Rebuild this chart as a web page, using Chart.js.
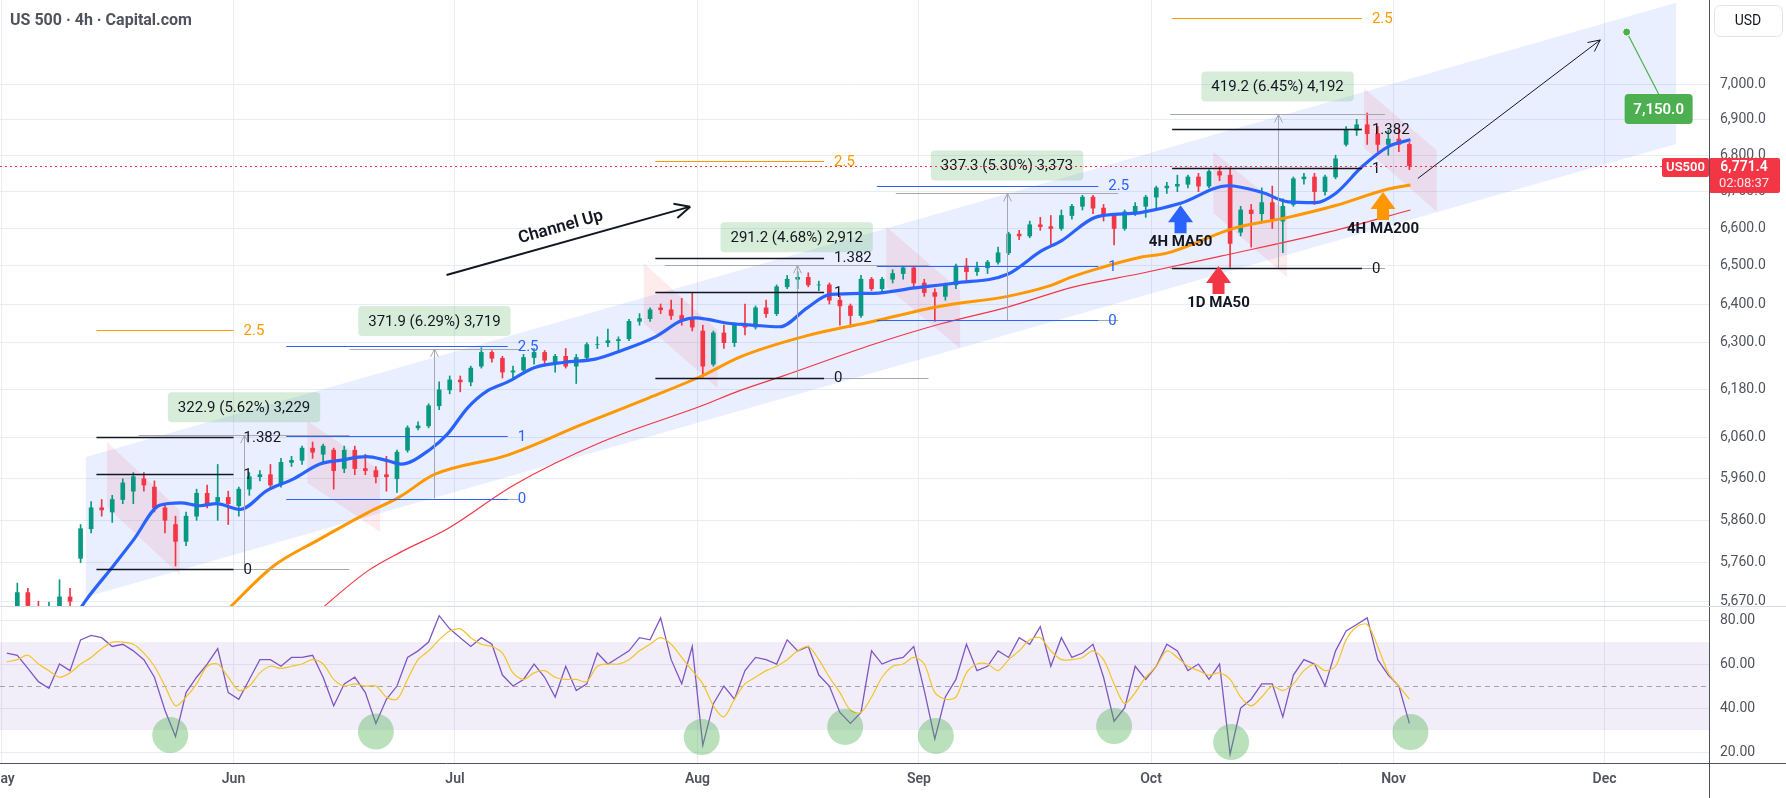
<!DOCTYPE html>
<html>
<head>
<meta charset="utf-8">
<title>US 500 4h</title>
<script src="https://cdn.jsdelivr.net/npm/chart.js@4.4.1/dist/chart.umd.min.js"></script>
<style>
  html, body { margin: 0; padding: 0; background: #ffffff; }
  #wrap { position: relative; width: 1786px; height: 798px; overflow: hidden; background: #ffffff; }
  #price { position: absolute; left: 0; top: 0; width: 1786px; height: 606px; }
  #rsi { position: absolute; left: 0; top: 606px; width: 1786px; height: 192px; }
</style>
</head>
<body>
<div id="wrap">
  <canvas id="price" width="1786" height="606"></canvas>
  <canvas id="rsi" width="1786" height="192"></canvas>
</div>
<script>
/* global Chart */
// x unit = trading day, 0 = 1 May (weekends skipped)
var monthDays = [0, 22, 43, 66, 87, 109, 132, 152];
var monthLabels = ['May', 'Jun', 'Jul', 'Aug', 'Sep', 'Oct', 'Nov', 'Dec'];
var priceTicks = [7000, 6900, 6800, 6700, 6600, 6500, 6400, 6300, 6180, 6060, 5960, 5860, 5760, 5670];
var rsiTicks = [80, 60, 40, 20];

// daily candles
var candleOpen = [
  5610, 5645, 5690, 5655, 5620, 5645, 5680, 5770, 5840, 5890,
  5880, 5910, 5930, 5960, 5940, 5890, 5850, 5810, 5870, 5925,
  5905, 5915, 5895, 5935, 5965, 5970, 5950, 6000, 6005, 6035,
  6020, 6030, 5985, 6030, 5985, 5980, 5970, 5960, 6030, 6085,
  6090, 6140, 6180, 6205, 6200, 6240, 6275, 6260, 6225, 6230,
  6262, 6275, 6250, 6265, 6240, 6262, 6295, 6300, 6305, 6310,
  6355, 6362, 6390, 6385, 6370, 6365, 6330, 6245, 6325, 6300,
  6345, 6340, 6390, 6375, 6445, 6465, 6470, 6450, 6450, 6410,
  6395, 6370, 6465, 6440, 6465, 6480, 6495, 6455, 6430, 6420,
  6450, 6500, 6485, 6495, 6510, 6535, 6585, 6580, 6610, 6605,
  6600, 6635, 6660, 6685, 6655, 6635, 6600, 6645, 6660, 6685,
  6710, 6715, 6720, 6740, 6715, 6755, 6745, 6590, 6650, 6640,
  6670, 6620, 6665, 6735, 6740, 6700, 6740, 6830, 6870, 6885,
  6860, 6830, 6845, 6830
];
var candleHigh = [
  5655, 5712, 5700, 5670, 5668, 5720, 5700, 5850, 5905, 5910,
  5920, 5960, 5975, 5975, 5955, 5900, 5870, 5880, 5935, 5945,
  5995, 5930, 5940, 5975, 5980, 5995, 6010, 6015, 6040, 6050,
  6045, 6035, 6040, 6040, 6020, 5990, 6015, 6030, 6090, 6100,
  6145, 6200, 6215, 6215, 6240, 6287, 6280, 6265, 6240, 6270,
  6285, 6280, 6270, 6285, 6270, 6300, 6315, 6335, 6315, 6360,
  6375, 6390, 6400, 6410, 6415, 6428, 6345, 6330, 6345, 6350,
  6400, 6395, 6410, 6450, 6475, 6485, 6482, 6460, 6455, 6420,
  6400, 6475, 6470, 6470, 6490, 6500, 6500, 6465, 6440, 6455,
  6505, 6520, 6510, 6515, 6550, 6590, 6595, 6620, 6630, 6635,
  6650, 6665, 6690, 6690, 6665, 6640, 6650, 6670, 6690, 6715,
  6725, 6745, 6745, 6750, 6760, 6768, 6765, 6660, 6665, 6710,
  6715, 6680, 6740, 6750, 6750, 6745, 6800, 6880, 6900, 6918,
  6880, 6870, 6875, 6835
];
var candleLow = [
  5580, 5640, 5640, 5600, 5600, 5640, 5655, 5760, 5830, 5870,
  5855, 5900, 5900, 5930, 5880, 5830, 5752, 5800, 5860, 5890,
  5860, 5850, 5870, 5920, 5955, 5935, 5940, 5990, 5995, 6010,
  6000, 5935, 5975, 5970, 5970, 5950, 5930, 5927, 6025, 6080,
  6085, 6130, 6170, 6175, 6190, 6235, 6250, 6210, 6210, 6220,
  6245, 6240, 6225, 6235, 6196, 6255, 6285, 6290, 6280, 6305,
  6345, 6355, 6375, 6360, 6345, 6330, 6212, 6240, 6285, 6290,
  6320, 6335, 6365, 6370, 6440, 6440, 6445, 6435, 6400, 6345,
  6340, 6365, 6435, 6430, 6455, 6465, 6440, 6420, 6355, 6410,
  6440, 6460, 6475, 6480, 6505, 6530, 6570, 6575, 6595, 6555,
  6595, 6625, 6650, 6640, 6620, 6556, 6595, 6635, 6630, 6650,
  6695, 6700, 6710, 6700, 6710, 6730, 6496, 6580, 6550, 6620,
  6600, 6535, 6660, 6720, 6665, 6690, 6735, 6825, 6855, 6830,
  6810, 6800, 6810, 6760
];
var candleClose = [
  5640, 5690, 5660, 5615, 5640, 5680, 5670, 5840, 5890, 5885,
  5910, 5950, 5965, 5945, 5890, 5860, 5810, 5870, 5925, 5900,
  5915, 5900, 5935, 5965, 5970, 5945, 6000, 6005, 6035, 6025,
  6040, 5980, 6030, 5985, 5980, 5965, 5965, 6025, 6085, 6090,
  6140, 6180, 6205, 6200, 6235, 6275, 6260, 6225, 6228, 6262,
  6275, 6255, 6265, 6240, 6262, 6295, 6295, 6305, 6308, 6355,
  6362, 6385, 6385, 6370, 6360, 6340, 6240, 6325, 6300, 6345,
  6340, 6390, 6375, 6445, 6465, 6470, 6450, 6450, 6410, 6395,
  6370, 6465, 6440, 6465, 6480, 6495, 6455, 6430, 6420, 6450,
  6500, 6485, 6495, 6510, 6535, 6585, 6580, 6610, 6605, 6600,
  6635, 6660, 6685, 6655, 6635, 6600, 6645, 6660, 6685, 6710,
  6715, 6720, 6740, 6715, 6755, 6745, 6560, 6650, 6640, 6670,
  6625, 6660, 6735, 6740, 6700, 6740, 6790, 6870, 6885, 6860,
  6830, 6845, 6830, 6771.4
];

var ma50Days = [7, 8, 10.6, 12.5, 15, 17, 18.8, 20.4, 22.6, 25.2, 27.7, 30.2, 32.1, 34.6, 36.5, 37.9, 40.7, 42.3, 44.2, 46.1, 48, 50.5, 53.4, 56.3, 58.8, 62, 64.5, 65.8, 67, 68.9, 70.8, 73.8, 76.4, 78.6, 82.7, 86.6, 90.4, 95.4, 98.6, 100.5, 103.7, 106.7, 108, 111.8, 116.3, 119.5, 122, 124.6, 126.5, 129, 131.5, 133.6];
var ma50Values = [5635, 5672, 5752, 5813, 5896, 5902, 5895, 5900, 5886, 5932, 5960, 5996, 6005, 6014, 6005, 5996, 6033, 6070, 6135, 6178, 6200, 6236, 6250, 6258, 6280, 6315, 6357, 6364, 6360, 6350, 6346, 6341, 6390, 6425, 6428, 6442, 6455, 6478, 6540, 6567, 6630, 6640, 6643, 6668, 6716, 6698, 6672, 6670, 6695, 6768, 6824, 6843];
var ma200Days = [21, 25.8, 30, 34.7, 37.8, 41, 48, 55, 61.4, 66.4, 70, 76.4, 82.7, 89, 95.4, 99.2, 101.7, 104.2, 108, 110.5, 116.9, 122, 126.5, 131.5, 133.6];
var ma200Values = [5640, 5752, 5813, 5878, 5917, 5970, 6018, 6093, 6160, 6215, 6263, 6318, 6355, 6394, 6420, 6446, 6473, 6495, 6523, 6534, 6601, 6630, 6662, 6707, 6718];
var dma50Days = [29, 34.7, 37.8, 42.3, 48.6, 56.9, 66.4, 70, 74, 82.7, 89, 95.4, 101.7, 108, 115.6, 126.5, 133.6];
var dma50Values = [5625, 5740, 5784, 5840, 5945, 6050, 6140, 6178, 6214, 6296, 6348, 6392, 6445, 6480, 6526, 6595, 6650];

var rsiValues = [
  65, 64, 58, 52, 49, 60, 57, 71, 73, 72,
  68, 69, 66, 62, 54, 39, 27, 47, 54, 60,
  67, 47, 44, 53, 62, 62, 59, 63, 63, 64,
  54, 41, 51, 54, 47, 33, 44, 50, 63, 66,
  70, 82, 76, 72, 68, 72, 69, 55, 50, 53,
  60, 54, 45, 59, 48, 51, 65, 60, 63, 66,
  72, 71, 81, 62, 51, 68, 23, 42, 50, 44,
  57, 63, 62, 60, 71, 66, 68, 55, 50, 38,
  33, 38, 66, 60, 62, 63, 68, 48, 26, 45,
  53, 69, 57, 59, 66, 63, 72, 69, 77, 59,
  72, 63, 65, 69, 54, 34, 40, 59, 53, 59,
  69, 66, 57, 60, 53, 60, 19, 40, 44, 51,
  51, 36, 55, 62, 60, 50, 66, 75, 78, 81,
  62, 55, 50, 33
];
var rsiMaValues = [
  61, 62, 64, 60, 57, 54, 56, 60, 63, 67,
  70, 70, 69, 65, 59, 50, 41, 45, 51, 59,
  60, 54, 48, 50, 56, 59, 58, 59, 60, 62,
  60, 53, 50, 51, 50, 50, 45, 44, 53, 62,
  66, 71, 75, 76, 72, 69, 68, 65, 56, 53,
  56, 57, 54, 53, 53, 52, 59, 60, 60, 62,
  66, 69, 72, 69, 63, 57, 51, 41, 36, 44,
  51, 54, 57, 59, 62, 66, 68, 62, 54, 47,
  39, 38, 45, 54, 59, 60, 63, 60, 47, 44,
  45, 56, 60, 60, 57, 62, 66, 71, 72, 66,
  62, 62, 63, 66, 62, 51, 42, 47, 54, 59,
  66, 63, 59, 57, 55, 56, 53, 45, 41, 45,
  50, 48, 51, 57, 60, 57, 59, 71, 77, 78,
  68, 56, 50, 44
];
var rsiBand = [30, 70];
var rsiMid = 50;
var dipDays = [16.0, 35.5, 66.4, 80.0, 88.6, 105.5, 116.6, 133.6];
var dipValues = [27.7, 29.3, 26.8, 31.4, 27.3, 31.8, 24.5, 29.1];

// drawings
var channelDays = [8.0, 158.8];
var channelTop = [6013, 7236];
var channelBottom = [5680, 6831];

var pinkStartDay = [10.0, 29.0, 60.9, 83.9, 114.9, 129.2];
var pinkEndDay = [16.9, 35.9, 67.9, 90.9, 121.9, 136.1];
var pinkTopStart = [6050, 6102, 6507, 6605, 6810, 6988];
var pinkBottomStart = [5892, 5950, 6350, 6445, 6642, 6820];
var pinkTopEnd = [5885, 5981, 6332, 6436, 6644, 6814];
var pinkBottomEnd = [5731, 5832, 6184, 6285, 6471, 6645];

var fibStartDay = [9, 27, 62, 83, 111];
var fibEndDay = [22, 48, 78, 104, 129];
var fibZero = [5744, 5912, 6211, 6358, 6495];
var fibOne = [5971, 6064, 6432, 6500, 6764];
var fibMid = [6063, null, 6522, null, 6873];
var fibTop = [6332, 6292, 6784, 6716, 7190];
var fibKind = ['black', 'blue', 'black', 'blue', 'black'];

var measureStartDay = [13, 33, 62.9, 84.8, 110.8];
var measureEndDay = [33, 49.1, 87.9, 105.9, 131.2];
var measureLow = [5744, 5912, 6211, 6358, 6495];
var measureHigh = [6067, 6284, 6502, 6695, 6914];
var measureText = ['322.9 (5.62%) 3,229', '371.9 (6.29%) 3,719', '291.2 (4.68%) 2,912', '337.3 (5.30%) 3,373', '419.2 (6.45%) 4,192'];

var markText = ['4H MA50', '1D MA50', '4H MA200'];
var markDay = [111.8, 115.4, 131.0];
var markPrice = [6663, 6500, 6699];

var trendDays = [42.2, 65.3];
var trendPrices = [6476, 6659];
var projDays = [134.3, 151.6];
var projPrices = [6736, 7127];
var targetDay = 154.1;
var targetPrice = 7150;
var lastPrice = 6771.4;
var countdown = '02:08:37';

// ---- styles ----
var UP = '#089981', DOWN = '#f23645';
var BLUE = '#2962ff', ORANGE = '#ff9800', RED = '#f23645', INK = '#131722';
var MARK_COLORS = [BLUE, RED, ORANGE];
var FONT = 'Roboto, "Liberation Sans", Arial, sans-serif';
var GRID = '#e8edf4';
var AXIS_LINE = '#50535e';
var AXIS_TEXT = '#50535e';
var X_MIN = -0.142, X_MAX = 161.91;

function pts(days, values) { return days.map(function (d, i) { return { x: d, y: values[i] }; }); }
function dayPts(values) { return values.map(function (v, i) { return { x: i + 0.5, y: v }; }); }
function fmtPrice(v) { return Number(v).toLocaleString('en-US', { minimumFractionDigits: 1, maximumFractionDigits: 1 }); }

function seg(ctx, x0, y0, x1, y1, color, width, dash) {
    ctx.save();
    ctx.strokeStyle = color; ctx.lineWidth = width; ctx.setLineDash(dash || []);
    ctx.beginPath(); ctx.moveTo(x0, y0); ctx.lineTo(x1, y1); ctx.stroke();
    ctx.restore();
}
function hline(ctx, x0, x1, y, color, width, dash) { var yy = Math.round(y) + 0.5; seg(ctx, x0, yy, x1, yy, color, width, dash); }
function rrect(ctx, x, y, w, h, r) {
    ctx.beginPath();
    ctx.moveTo(x + r, y);
    ctx.arcTo(x + w, y, x + w, y + h, r); ctx.arcTo(x + w, y + h, x, y + h, r);
    ctx.arcTo(x, y + h, x, y, r); ctx.arcTo(x, y, x + w, y, r);
    ctx.closePath();
}
function head(ctx, x0, y0, x1, y1, len, color, width) {
    var a = Math.atan2(y1 - y0, x1 - x0);
    seg(ctx, x1, y1, x1 - len * Math.cos(a - 0.45), y1 - len * Math.sin(a - 0.45), color, width);
    seg(ctx, x1, y1, x1 - len * Math.cos(a + 0.45), y1 - len * Math.sin(a + 0.45), color, width);
}
function monthTicks(scale) { scale.ticks = monthDays.map(function (d) { return { value: d }; }); }
function monthLabel(v) { var k = monthDays.indexOf(v); return k < 0 ? '' : monthLabels[k]; }

var candleColors = candleOpen.map(function (o, i) { return candleClose[i] >= o ? UP : DOWN; });
var wickData = candleOpen.map(function (o, i) { return { x: i + 0.5, y: [candleLow[i], candleHigh[i]] }; });
var bodyData = candleOpen.map(function (o, i) { return { x: i + 0.5, y: [o, candleClose[i]] }; });

var shapeSets = [{
    type: 'line', order: 20, fill: 'shape', backgroundColor: 'rgba(41,98,255,0.1)', borderWidth: 0, pointRadius: 0, tension: 0,
    data: [{ x: channelDays[0], y: channelTop[0] }, { x: channelDays[1], y: channelTop[1] }, { x: channelDays[1], y: channelBottom[1] }, { x: channelDays[0], y: channelBottom[0] }]
}].concat(pinkStartDay.map(function (d, i) {
    return {
        type: 'line', order: 19, fill: 'shape', backgroundColor: 'rgba(242,54,69,0.1)', borderWidth: 0, pointRadius: 0, tension: 0,
        data: [{ x: d, y: pinkTopStart[i] }, { x: pinkEndDay[i], y: pinkTopEnd[i] }, { x: pinkEndDay[i], y: pinkBottomEnd[i] }, { x: d, y: pinkBottomStart[i] }]
    };
}));

var priceOverlay = {
    id: 'priceOverlay',
    afterDraw: function (chart) {
        var ctx = chart.ctx, xs = chart.scales.x, ys = chart.scales.y, area = chart.chartArea;
        var X = function (d) { return xs.getPixelForValue(d); };
        var Y = function (p) { return ys.getPixelForValue(p); };
        var GRAY = '#a5a8b0';
        ctx.save();

        // price range measures
        measureStartDay.forEach(function (d, i) {
            var x0 = X(d), x1 = X(measureEndDay[i]), xm = Math.round((x0 + x1) / 2) + 0.5;
            var yLo = Y(measureLow[i]), yHi = Y(measureHigh[i]);
            hline(ctx, x0, x1, yLo, GRAY, 1);
            hline(ctx, x0, x1, yHi, GRAY, 1);
            seg(ctx, xm, yLo, xm, yHi, GRAY, 1);
            head(ctx, xm, yLo, xm, yHi, 9, GRAY, 1);
        });

        // fib levels
        ctx.font = '15px ' + FONT; ctx.textAlign = 'left'; ctx.textBaseline = 'middle';
        fibStartDay.forEach(function (d, i) {
            var x0 = X(d), x1 = X(fibEndDay[i]);
            var blue = fibKind[i] === 'blue';
            var levels = [[fibZero[i], '0'], [fibOne[i], '1'], [fibMid[i], '1.382'], [fibTop[i], '2.5']];
            levels.forEach(function (l, k) {
                if (l[0] === null) { return; }
                var col = blue ? BLUE : (k === 3 ? ORANGE : INK);
                var y = Y(l[0]);
                hline(ctx, x0, x1, y, col, blue || k === 3 ? 1.2 : 1.5);
                ctx.fillStyle = col;
                ctx.fillText(l[1], x1 + 10, y + 1);
            });
        });

        // measure labels
        ctx.font = '15px ' + FONT; ctx.textAlign = 'center'; ctx.textBaseline = 'middle';
        measureStartDay.forEach(function (d, i) {
            var xm = (X(d) + X(measureEndDay[i])) / 2, yHi = Y(measureHigh[i]);
            var w = ctx.measureText(measureText[i]).width + 20, h = 30;
            rrect(ctx, xm - w / 2, yHi - 13 - h, w, h, 4);
            ctx.fillStyle = 'rgba(76,175,80,0.22)'; ctx.fill();
            ctx.fillStyle = INK; ctx.fillText(measureText[i], xm, yHi - 13 - h / 2 + 1);
        });

        // channel up arrow
        var tx0 = X(trendDays[0]), ty0 = Y(trendPrices[0]), tx1 = X(trendDays[1]), ty1 = Y(trendPrices[1]);
        seg(ctx, tx0, ty0, tx1, ty1, INK, 2);
        head(ctx, tx0, ty0, tx1, ty1, 17, INK, 2);
        ctx.save();
        ctx.translate(tx0 + (tx1 - tx0) * 0.486, ty0 + (ty1 - ty0) * 0.486);
        ctx.rotate(Math.atan2(ty1 - ty0, tx1 - tx0));
        ctx.font = '600 17px ' + FONT; ctx.fillStyle = INK; ctx.textAlign = 'center'; ctx.textBaseline = 'middle';
        ctx.fillText('Channel Up', 0, -15);
        ctx.restore();

        // projection arrow
        var px0 = X(projDays[0]), py0 = Y(projPrices[0]), px1 = X(projDays[1]), py1 = Y(projPrices[1]);
        seg(ctx, px0, py0, px1, py1, INK, 1);
        head(ctx, px0, py0, px1, py1, 13, INK, 1);

        // MA arrow marks
        markDay.forEach(function (d, i) {
            var x = X(d), y = Y(markPrice[i]);
            ctx.fillStyle = MARK_COLORS[i];
            ctx.beginPath();
            ctx.moveTo(x, y); ctx.lineTo(x + 12.5, y + 17); ctx.lineTo(x + 6, y + 17); ctx.lineTo(x + 6, y + 28);
            ctx.lineTo(x - 6, y + 28); ctx.lineTo(x - 6, y + 17); ctx.lineTo(x - 12.5, y + 17);
            ctx.closePath(); ctx.fill();
            ctx.font = 'bold 15px ' + FONT; ctx.fillStyle = INK; ctx.textAlign = 'center'; ctx.textBaseline = 'middle';
            ctx.fillText(markText[i], x, y + 37);
        });

        // target label
        var gx = X(targetDay), gy = Y(targetPrice);
        seg(ctx, gx, gy, gx + 32, gy + 62, '#4caf50', 1.2);
        rrect(ctx, gx - 2, gy + 62, 68, 30, 4);
        ctx.fillStyle = '#4caf50'; ctx.fill();
        ctx.font = '600 15px ' + FONT; ctx.fillStyle = '#ffffff'; ctx.textAlign = 'center'; ctx.textBaseline = 'middle';
        ctx.fillText(fmtPrice(targetPrice), gx + 32, gy + 78);
        ctx.beginPath(); ctx.arc(gx, gy, 4, 0, Math.PI * 2);
        ctx.fillStyle = '#4caf50'; ctx.fill(); ctx.strokeStyle = '#ffffff'; ctx.lineWidth = 1; ctx.stroke();

        // last price line and labels
        var ly = Y(lastPrice);
        hline(ctx, area.left, area.right, ly, RED, 1, [2, 3]);
        ctx.fillStyle = RED;
        rrect(ctx, area.right - 47, Math.round(ly) - 8, 47, 19, 2); ctx.fill();
        rrect(ctx, area.right, Math.round(ly) - 8, 71, 35, 2); ctx.fill();
        ctx.fillStyle = '#ffffff'; ctx.textAlign = 'center'; ctx.textBaseline = 'middle';
        ctx.font = '600 13px ' + FONT;
        ctx.fillText('US500', area.right - 23.5, Math.round(ly) + 1.5);
        ctx.font = '600 14px ' + FONT;
        ctx.fillText(fmtPrice(lastPrice), area.right + 35, Math.round(ly) + 1.5);
        ctx.font = '13px ' + FONT; ctx.fillStyle = 'rgba(255,255,255,0.88)';
        ctx.fillText(countdown, area.right + 35, Math.round(ly) + 18);

        // title, currency box, right border
        ctx.font = 'bold 16px ' + FONT; ctx.fillStyle = '#50535e'; ctx.textAlign = 'left'; ctx.textBaseline = 'middle';
        ctx.fillText('US 500 \u00b7 4h \u00b7 Capital.com', 10, 21);
        rrect(ctx, 1714.5, 5.5, 68, 31, 6);
        ctx.fillStyle = '#ffffff'; ctx.fill(); ctx.strokeStyle = '#e0e3eb'; ctx.lineWidth = 1; ctx.stroke();
        ctx.font = '14px ' + FONT; ctx.fillStyle = INK; ctx.textAlign = 'center';
        ctx.fillText('USD', 1748, 21.5);
        var rx = Math.round(area.right) + 0.5;
        seg(ctx, rx, 0, rx, chart.height, AXIS_LINE, 1);
        ctx.restore();
    }
};

var rsiOverlay = {
    id: 'rsiOverlay',
    beforeDatasetsDraw: function (chart) {
        var ctx = chart.ctx, a = chart.chartArea, ys = chart.scales.y;
        var yHi = ys.getPixelForValue(rsiBand[1]), yLo = ys.getPixelForValue(rsiBand[0]);
        ctx.save();
        ctx.fillStyle = 'rgba(126,87,194,0.1)';
        ctx.fillRect(a.left, yHi, a.right - a.left, yLo - yHi);
        hline(ctx, a.left, a.right, ys.getPixelForValue(rsiMid), '#a3a6ae', 1, [5, 4]);
        ctx.restore();
    },
    afterDraw: function (chart) {
        var ctx = chart.ctx, a = chart.chartArea;
        var rx = Math.round(a.right) + 0.5;
        seg(ctx, rx, 0, rx, chart.height, AXIS_LINE, 1);
        hline(ctx, 0, chart.width, a.bottom, AXIS_LINE, 1);
        hline(ctx, 0, chart.width, 0, '#d6d9e0', 1);
    }
};

new Chart(document.getElementById('price'), {
    type: 'bar',
    data: {
        datasets: shapeSets.concat([
            { type: 'bar', order: 6, data: wickData, backgroundColor: candleColors, barThickness: 1, grouped: false },
            { type: 'bar', order: 5, data: bodyData, backgroundColor: candleColors, barThickness: 4, grouped: false },
            { type: 'line', order: 3, data: pts(dma50Days, dma50Values), borderColor: RED, borderWidth: 1.2, pointRadius: 0, tension: 0.4, cubicInterpolationMode: 'monotone' },
            { type: 'line', order: 2, data: pts(ma200Days, ma200Values), borderColor: ORANGE, borderWidth: 3, pointRadius: 0, tension: 0.4, cubicInterpolationMode: 'monotone' },
            { type: 'line', order: 1, data: pts(ma50Days, ma50Values), borderColor: BLUE, borderWidth: 3.2, pointRadius: 0, tension: 0.4, cubicInterpolationMode: 'monotone' }
        ])
    },
    options: {
        responsive: false, animation: false, events: [], devicePixelRatio: 1,
        layout: { padding: 0, autoPadding: false },
        plugins: { legend: { display: false }, tooltip: { enabled: false } },
        scales: {
            x: {
                type: 'linear', min: X_MIN, max: X_MAX, offset: false, bounds: 'data',
                grid: { color: GRID, drawTicks: false, offset: false }, border: { display: false },
                ticks: { display: false, autoSkip: false },
                afterBuildTicks: monthTicks,
                afterFit: function (s) { s.height = 0; s.paddingLeft = 0; s.paddingRight = 0; }
            },
            y: {
                type: 'logarithmic', position: 'right', min: 5659, max: 7244, bounds: 'data',
                grid: { color: GRID, drawTicks: false }, border: { display: false },
                ticks: { padding: 11, color: AXIS_TEXT, autoSkip: false, font: { family: FONT, size: 14 }, callback: fmtPrice },
                afterBuildTicks: function (s) { s.ticks = priceTicks.map(function (v) { return { value: v }; }); },
                afterFit: function (s) { s.width = 77; s.paddingTop = 0; s.paddingBottom = 0; }
            }
        }
    },
    plugins: [priceOverlay]
});

new Chart(document.getElementById('rsi'), {
    type: 'line',
    data: {
        datasets: [
            { type: 'scatter', order: 0, data: pts(dipDays, dipValues), backgroundColor: 'rgba(76,175,80,0.38)', borderWidth: 0, pointRadius: 18 },
            { order: 1, data: dayPts(rsiMaValues), borderColor: '#f5c32c', borderWidth: 1.2, pointRadius: 0, tension: 0.3 },
            { order: 2, data: dayPts(rsiValues), borderColor: '#7e57c2', borderWidth: 1.3, pointRadius: 0, tension: 0 }
        ]
    },
    options: {
        responsive: false, animation: false, events: [], devicePixelRatio: 1,
        layout: { padding: 0, autoPadding: false },
        plugins: { legend: { display: false }, tooltip: { enabled: false } },
        scales: {
            x: {
                type: 'linear', min: X_MIN, max: X_MAX, offset: false, bounds: 'data',
                grid: { color: GRID, drawTicks: false, offset: false }, border: { display: false },
                ticks: { padding: 8, color: AXIS_TEXT, autoSkip: false, maxRotation: 0, font: { family: FONT, size: 14, weight: '600' }, callback: monthLabel },
                afterBuildTicks: monthTicks,
                afterFit: function (s) { s.height = 35; s.paddingLeft = 0; s.paddingRight = 0; }
            },
            y: {
                type: 'linear', position: 'right', min: 15, max: 86.4, bounds: 'data',
                grid: { color: GRID, drawTicks: false }, border: { display: false },
                ticks: { padding: 11, color: AXIS_TEXT, autoSkip: false, font: { family: FONT, size: 14 }, callback: function (v) { return v.toFixed(2); } },
                afterBuildTicks: function (s) { s.ticks = rsiTicks.map(function (v) { return { value: v }; }); },
                afterFit: function (s) { s.width = 77; s.paddingTop = 0; s.paddingBottom = 0; }
            }
        }
    },
    plugins: [rsiOverlay]
});
</script>
</body>
</html>
